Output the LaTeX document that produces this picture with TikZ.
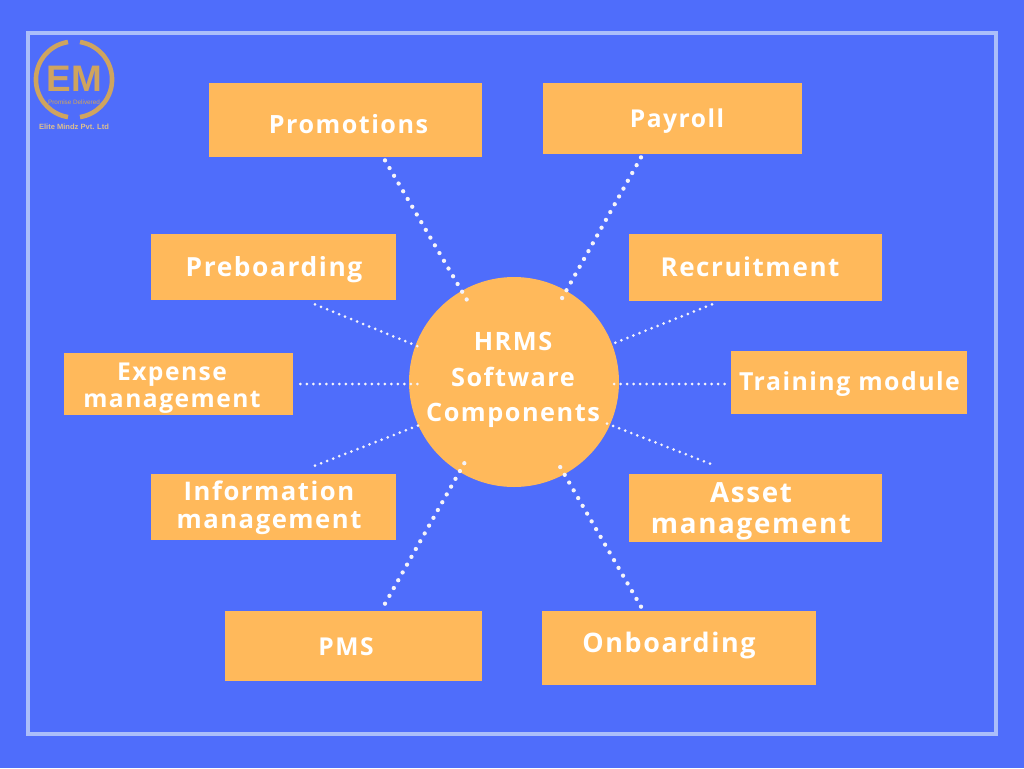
\documentclass[tikz,border=0pt]{standalone}
\usepackage{fontspec}
\setmainfont{Open Sans}[LetterSpace=6]
\newfontfamily\logofont{Liberation Sans}
\usetikzlibrary{positioning}
\definecolor{bgblue}{HTML}{4F6DFB}
\definecolor{boxorange}{HTML}{FFB95B}
\definecolor{framelight}{HTML}{ABBEFA}
\definecolor{logogold}{HTML}{CFA45F}
\definecolor{dotwhite}{HTML}{F4F3FA}

\begin{document}
\begin{tikzpicture}[
    x=0.02cm, y=-0.02cm,
    compbox/.style 2 args={fill=boxorange, minimum width=#1*0.02cm, minimum height=#2*0.02cm, inner sep=0pt},
    complabel/.style={text=white, font=\bfseries\fontsize{#1}{15.7}\selectfont, align=center, inner sep=0pt},
    complabel/.default=14,
    biglink/.style={dotwhite, line width=2.45pt, line cap=round, dash pattern=on 0pt off 5.1pt},
    smalllink/.style={dotwhite, line width=1.7pt, line cap=round, dash pattern=on 0pt off 3.7pt},
    logoarc/.style={logogold, line width=2.6pt},
    logoletter/.style={text=logogold, font=\logofont\bfseries\fontsize{21}{23}\selectfont, inner sep=0pt}
]

% Background and frame
\fill[bgblue] (0,0) rectangle (1024,768);
\draw[framelight, line width=2.4pt] (28,33) rectangle (996,734);

% Logo
\draw[logoarc] (68,42) arc[start angle=261, end angle=99, radius=38];
\draw[logoarc] (80,42) arc[start angle=-81, end angle=81, radius=38];
\node[logoletter] (logoe) at (59,79) {E};
\node[logoletter] (logom) at (87,79) {M};
\node[text=logogold, font=\logofont\fontsize{3.6}{4}\selectfont, inner sep=0pt] (logotag) at (74,102) {Promise Delivered};
\node[text=logogold!70!white, font=\logofont\bfseries\fontsize{4.3}{5}\selectfont, inner sep=0pt] (logoname) at (74,127) {Elite Mindz Pvt. Ltd};

% Boxes
\node[compbox={273}{74}] (promotions) at (345.5,120) {};
\node[compbox={259}{71}] (payroll) at (672.5,118.5) {};
\node[compbox={245}{66}] (preboarding) at (273.5,267) {};
\node[compbox={253}{67}] (recruitment) at (755.5,267.5) {};
\node[compbox={229}{62}] (expense) at (178.5,384) {};
\node[compbox={236}{63}] (training) at (849,382.5) {};
\node[compbox={245}{66}] (information) at (273.5,507) {};
\node[compbox={253}{68}] (asset) at (755.5,508) {};
\node[compbox={257}{70}] (pms) at (353.5,646) {};
\node[compbox={274}{74}] (onboarding) at (679,648) {};

% Hub
\node[circle, fill=boxorange, minimum size=210*0.02cm, inner sep=0pt] (hub) at (514,382) {};

% Links
\draw[biglink] ([shift={(39.5,3)}]promotions.south) -- ([shift={(-47,-82)}]hub.center);
\draw[biglink] ([shift={(-31.5,3)}]payroll.south) -- ([shift={(47,-82)}]hub.center);
\draw[smalllink] ([shift={(41.5,4)}]preboarding.south) -- ([shift={(-92,-34)}]hub.center);
\draw[smalllink] ([shift={(-43.5,3)}]recruitment.south) -- ([shift={(98,-38)}]hub.center);
\draw[smalllink] ([shift={(7,0)}]expense.east) -- ([shift={(-96,2)}]hub.center);
\draw[smalllink] ([shift={(-6,1.5)}]training.west) -- ([shift={(96,2)}]hub.center);
\draw[smalllink] ([shift={(41.5,-8)}]information.north) -- ([shift={(-92,42)}]hub.center);
\draw[smalllink] ([shift={(-45.5,-10)}]asset.north) -- ([shift={(89,40)}]hub.center);
\draw[biglink] ([shift={(31.5,-7)}]pms.north) -- ([shift={(-49,80)}]hub.center);
\draw[biglink] ([shift={(-38,-4)}]onboarding.north) -- ([shift={(45,83)}]hub.center);

% Labels
\node[complabel=14.3] (promotionslabel) at (348.5,124) {Promotions};
\node[complabel] (payrolllabel) at (677,121) {Payroll};
\node[complabel=15] (preboardinglabel) at (274,270) {Preboarding};
\node[complabel=14.8] (recruitmentlabel) at (750,267) {Recruitment};
\node[complabel] (expenselabel) at (172,388) {Expense\\management};
\node[complabel=14.15] (traininglabel) at (849.5,384) {Training module};
\node[complabel=14.6] (informationlabel) at (269,508) {Information\\management};
\node[complabel=15.8, font=\bfseries\fontsize{15.8}{17.5}\selectfont] (assetlabel) at (751,511.5) {Asset\\management};
\node[complabel] (pmslabel) at (346,647) {PMS};
\node[complabel=15.3] (onboardinglabel) at (669,646) {Onboarding};
\node[complabel=14.4, font=\bfseries\fontsize{14.4}{20}\selectfont] (hublabel) at (513,380) {HRMS\\Software\\Components};

\end{tikzpicture}
\end{document}
